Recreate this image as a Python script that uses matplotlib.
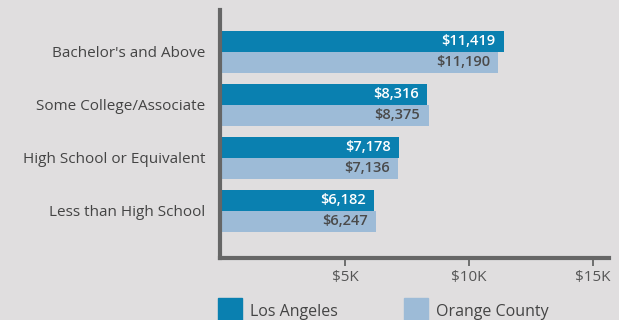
import matplotlib.pyplot as plt
from matplotlib.patches import Rectangle
import numpy as np

categories = ["Bachelor's and Above", "Some College/Associate",
              "High School or Equivalent", "Less than High School"]
los_angeles = [11419, 8316, 7178, 6182]
orange_county = [11190, 8375, 7136, 6247]
tick_values = [5000, 10000, 15000]
tick_labels = ["$5K", "$10K", "$15K"]

bg = "#e0dedf"
la_color = "#0a80b0"
oc_color = "#9dbbd7"
text_color = "#444444"
axis_color = "#666666"

plt.rcParams["font.family"] = ["Open Sans", "DejaVu Sans"]

W, H = 619, 320
fig = plt.figure(figsize=(W / 100, H / 100), dpi=100, facecolor=bg)
# axes box in pixels: left spine at x=219.5, bottom spine at y=258, top at y=10
ax = fig.add_axes([219.5 / W, (H - 258) / H, (609 - 219.5) / W, 248 / H])
ax.set_facecolor(bg)

y = np.arange(len(categories))
h = 0.396
ax.barh(y - h / 2, los_angeles, height=h, color=la_color, zorder=1)
ax.barh(y + h / 2, orange_county, height=h, color=oc_color, zorder=1)

for i in range(len(categories)):
    ax.annotate(f"${los_angeles[i]:,}", (los_angeles[i], y[i] - h / 2),
                xytext=(-6, 0), textcoords="offset points", ha="right", va="center",
                color="white", fontsize=10.5, fontweight="semibold")
    ax.annotate(f"${orange_county[i]:,}", (orange_county[i], y[i] + h / 2),
                xytext=(-6, 0), textcoords="offset points", ha="right", va="center",
                color="#4a4a4a", fontsize=10.5, fontweight="semibold")

ax.set_xlim(-60, 15650)
ax.set_ylim(3.887, -0.79)

ax.set_yticks(y)
ax.set_yticklabels(categories, fontsize=11, color=text_color)
ax.tick_params(axis="y", length=0, pad=10)
ax.set_xticks(tick_values)
ax.set_xticklabels(tick_labels, fontsize=11, color="#555555")
ax.tick_params(axis="x", length=6, width=1.3, color=axis_color, pad=3)

for side in ["top", "right"]:
    ax.spines[side].set_visible(False)
for side in ["left", "bottom"]:
    ax.spines[side].set_color(axis_color)
    ax.spines[side].set_linewidth(3)
    ax.spines[side].set_zorder(3)

# legend drawn along the bottom edge
for x0, color, label in [(218, la_color, "Los Angeles"), (404, oc_color, "Orange County")]:
    fig.patches.append(Rectangle((x0 / W, 0), 24 / W, 22 / H, transform=fig.transFigure,
                                 color=color, zorder=2))
    fig.text((x0 + 32) / W, 8 / H, label, fontsize=11.5, color=text_color,
             va="center", ha="left")

fig.savefig("out.png", dpi=100, facecolor=bg)
